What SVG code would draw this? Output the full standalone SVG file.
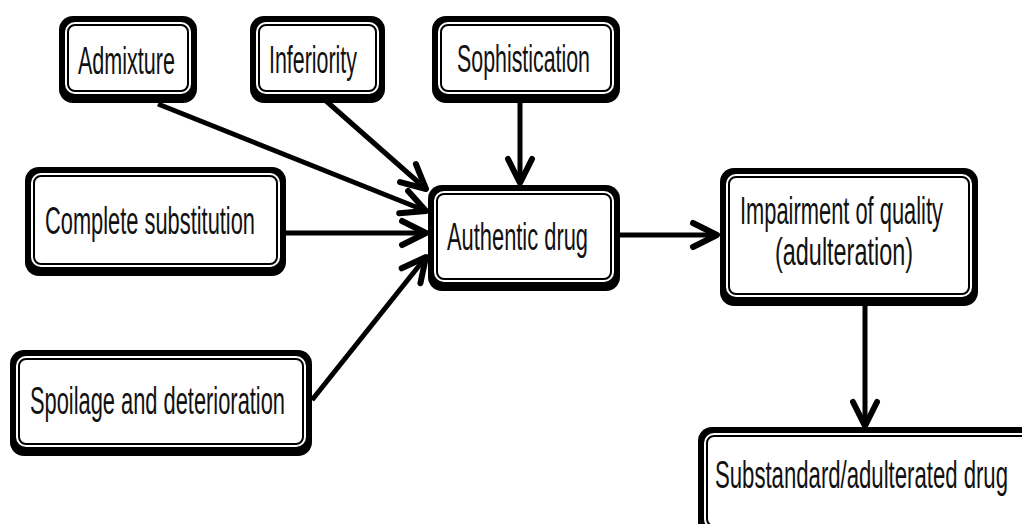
<svg xmlns="http://www.w3.org/2000/svg" width="1022" height="524" viewBox="0 0 1022 524">
<style>
.o{fill:#000}
.g{fill:#fff}
.i{fill:#fff;stroke:#000;stroke-width:2}
.t{font-family:"Liberation Sans Narrow","Liberation Sans",Arial,sans-serif;font-size:38px;fill:#111}
.c{fill:none;stroke:#000;stroke-width:5;stroke-linecap:butt}
</style>
<defs>
<marker id="ah" markerUnits="userSpaceOnUse" markerWidth="44" markerHeight="44" viewBox="-32 -22 44 44" refX="0" refY="0" orient="auto">
<path d="M -24 -12 L 0 0 L -24 12" fill="none" stroke="#000" stroke-width="6" stroke-linejoin="round" stroke-linecap="round"/>
</marker>
</defs>
<rect width="1022" height="524" fill="#fff"/>
<g id="connectors">
<line class="c" x1="158" y1="104" x2="426" y2="211" marker-end="url(#ah)"/>
<line class="c" x1="325" y1="100" x2="426" y2="189" marker-end="url(#ah)"/>
<line class="c" x1="520" y1="101" x2="520" y2="183" marker-end="url(#ah)"/>
<line class="c" x1="286" y1="233" x2="426" y2="233" marker-end="url(#ah)"/>
<line class="c" x1="312" y1="400" x2="426" y2="257" marker-end="url(#ah)"/>
<line class="c" x1="620" y1="235" x2="717" y2="235" marker-end="url(#ah)"/>
<line class="c" x1="865" y1="305" x2="865" y2="426" marker-end="url(#ah)"/>
</g>
<g id="admixture">
<rect class="o" x="59" y="16" width="138" height="87" rx="14"/>
<rect class="g" x="65" y="22" width="126" height="72" rx="10"/>
<rect class="i" x="68" y="25" width="120" height="66" rx="7"/>
<text class="t" x="78" y="74" textLength="97" lengthAdjust="spacingAndGlyphs">Admixture</text>
</g>
<g id="inferiority">
<rect class="o" x="250" y="16" width="135" height="87" rx="14"/>
<rect class="g" x="256" y="22" width="123" height="72" rx="10"/>
<rect class="i" x="259" y="25" width="117" height="66" rx="7"/>
<text class="t" x="269" y="73" textLength="88" lengthAdjust="spacingAndGlyphs">Inferiority</text>
</g>
<g id="sophistication">
<rect class="o" x="432" y="16" width="188" height="87" rx="14"/>
<rect class="g" x="438" y="22" width="176" height="72" rx="10"/>
<rect class="i" x="441" y="25" width="170" height="66" rx="7"/>
<text class="t" x="457" y="72" textLength="133" lengthAdjust="spacingAndGlyphs">Sophistication</text>
</g>
<g id="complete-substitution">
<rect class="o" x="25" y="167" width="261" height="109" rx="14"/>
<rect class="g" x="31" y="173" width="249" height="94" rx="10"/>
<rect class="i" x="34" y="176" width="243" height="88" rx="7"/>
<text class="t" x="45" y="234" textLength="210" lengthAdjust="spacingAndGlyphs">Complete substitution</text>
</g>
<g id="spoilage">
<rect class="o" x="10" y="350" width="302" height="106" rx="14"/>
<rect class="g" x="16" y="356" width="290" height="91" rx="10"/>
<rect class="i" x="19" y="359" width="284" height="85" rx="7"/>
<text class="t" x="30" y="414" textLength="255" lengthAdjust="spacingAndGlyphs">Spoilage and deterioration</text>
</g>
<g id="authentic-drug">
<rect class="o" x="428" y="185" width="192" height="106" rx="14"/>
<rect class="g" x="434" y="191" width="180" height="91" rx="10"/>
<rect class="i" x="437" y="194" width="174" height="85" rx="7"/>
<text class="t" x="447" y="250" textLength="141" lengthAdjust="spacingAndGlyphs">Authentic drug</text>
</g>
<g id="impairment">
<rect class="o" x="720" y="168" width="258" height="138" rx="14"/>
<rect class="g" x="726" y="174" width="246" height="123" rx="10"/>
<rect class="i" x="729" y="177" width="240" height="117" rx="7"/>
<text class="t" x="740" y="224" textLength="203" lengthAdjust="spacingAndGlyphs">Impairment of quality</text>
<text class="t" x="775" y="265" textLength="138" lengthAdjust="spacingAndGlyphs">(adulteration)</text>
</g>
<g id="substandard">
<rect class="o" x="698" y="427" width="340" height="110" rx="14"/>
<rect class="g" x="704" y="433" width="328" height="96" rx="10"/>
<rect class="i" x="707" y="436" width="322" height="90" rx="7"/>
<text class="t" x="715" y="488" textLength="293" lengthAdjust="spacingAndGlyphs">Substandard/adulterated  drug</text>
</g>
</svg>
